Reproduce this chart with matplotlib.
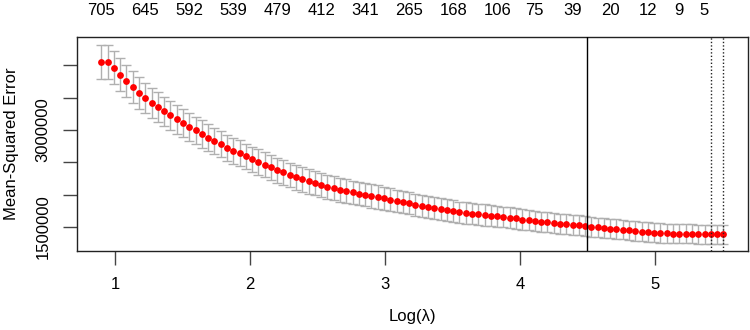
import matplotlib
matplotlib.use("Agg")
import matplotlib.pyplot as plt
import matplotlib.transforms as mtransforms

plt.rcParams['font.family'] = ['Liberation Sans', 'DejaVu Sans']

# log(lambda) grid, 100 values (smallest lambda at the right end)
log_lambda = [
    0.899, 0.945, 0.992, 1.038, 1.085, 1.131, 1.178, 1.224, 1.271, 1.318,
    1.364, 1.411, 1.457, 1.504, 1.550, 1.597, 1.643, 1.690, 1.736, 1.783,
    1.830, 1.876, 1.923, 1.969, 2.016, 2.062, 2.109, 2.155, 2.202, 2.248,
    2.295, 2.342, 2.388, 2.435, 2.481, 2.528, 2.574, 2.621, 2.667, 2.714,
    2.760, 2.807, 2.854, 2.900, 2.947, 2.993, 3.040, 3.086, 3.133, 3.179,
    3.226, 3.272, 3.319, 3.366, 3.412, 3.459, 3.505, 3.552, 3.598, 3.645,
    3.691, 3.738, 3.784, 3.831, 3.878, 3.924, 3.971, 4.017, 4.064, 4.110,
    4.157, 4.203, 4.250, 4.296, 4.343, 4.390, 4.436, 4.483, 4.529, 4.576,
    4.622, 4.669, 4.715, 4.762, 4.808, 4.855, 4.902, 4.948, 4.995, 5.041,
    5.088, 5.134, 5.181, 5.227, 5.274, 5.320, 5.367, 5.414, 5.460, 5.507,
]

# cross-validated mean-squared error (millions)
cvm = [
    4.052, 4.052, 3.963, 3.855, 3.753, 3.665, 3.572, 3.495, 3.422, 3.351,
    3.289, 3.227, 3.165, 3.113, 3.051, 2.995, 2.938, 2.881, 2.830, 2.779,
    2.726, 2.680, 2.640, 2.593, 2.547, 2.505, 2.463, 2.423, 2.381, 2.346,
    2.304, 2.269, 2.238, 2.204, 2.176, 2.149, 2.123, 2.098, 2.077, 2.057,
    2.037, 2.015, 2.000, 1.979, 1.964, 1.944, 1.922, 1.902, 1.887, 1.867,
    1.840, 1.825, 1.809, 1.794, 1.778, 1.758, 1.743, 1.727, 1.716, 1.706,
    1.696, 1.686, 1.675, 1.665, 1.655, 1.644, 1.635, 1.613, 1.604, 1.593,
    1.582, 1.573, 1.562, 1.551, 1.542, 1.536, 1.526, 1.516, 1.505, 1.495,
    1.485, 1.474, 1.469, 1.458, 1.449, 1.438, 1.427, 1.423, 1.412, 1.407,
    1.403, 1.397, 1.396, 1.392, 1.392, 1.391, 1.391, 1.390, 1.390, 1.390,
]

# standard error of the cv estimate (millions)
cvsd = [
    0.263, 0.262, 0.258, 0.254, 0.250, 0.246, 0.242, 0.238, 0.234, 0.230,
    0.227, 0.224, 0.221, 0.218, 0.215, 0.213, 0.210, 0.208, 0.206, 0.204,
    0.202, 0.201, 0.199, 0.198, 0.197, 0.196, 0.195, 0.194, 0.193, 0.193,
    0.192, 0.191, 0.190, 0.189, 0.188, 0.187, 0.186, 0.185, 0.184, 0.183,
    0.182, 0.181, 0.180, 0.179, 0.178, 0.177, 0.176, 0.175, 0.174, 0.173,
    0.172, 0.171, 0.170, 0.170, 0.169, 0.168, 0.168, 0.167, 0.167, 0.166,
    0.165, 0.164, 0.163, 0.162, 0.162, 0.161, 0.160, 0.159, 0.158, 0.158,
    0.157, 0.156, 0.155, 0.155, 0.154, 0.153, 0.153, 0.152, 0.152, 0.151,
    0.151, 0.150, 0.150, 0.149, 0.149, 0.149, 0.148, 0.148, 0.148, 0.148,
    0.147, 0.147, 0.147, 0.147, 0.147, 0.147, 0.147, 0.147, 0.147, 0.147,
]

# number of nonzero coefficients shown on top (index into the grid)
nz_index = [0, 7, 14, 21, 28, 35, 42, 49, 56, 63, 69, 75, 81, 87, 92, 96]
nz_labels = ["705", "645", "592", "539", "479", "412", "341", "265",
             "168", "106", "75", "39", "20", "12", "9", "5"]

log_lambda_solid = 4.499
log_lambda_dotted = [5.414, 5.507]

y_ticks = [1500000, 2000000, 2500000, 3000000, 3500000, 4000000]
y_ticklabels = ["1500000", "", "", "3000000", "", ""]
x_ticks = [1, 2, 3, 4, 5]

mse = [v * 1e6 for v in cvm]
se = [v * 1e6 for v in cvsd]

fig = plt.figure(figsize=(7.5, 3.3), dpi=100)
ax = fig.add_axes([0.1027, 0.2394, 0.8946, 0.6485])

ax.errorbar(log_lambda, mse, yerr=se, fmt="none", ecolor="#b0b0b0",
            elinewidth=1, capsize=3.3, capthick=1, zorder=2)
ax.scatter(log_lambda, mse, s=24, color="red", zorder=3, linewidths=0)

ax.axvline(log_lambda_solid, color="black", lw=1, zorder=4)
for v in log_lambda_dotted:
    ax.axvline(v, color="#222222", lw=1, linestyle=(0, (1, 1.5)), zorder=4)

ax.set_xlim(0.719, 5.689)
ax.set_ylim(1.129e6, 4.438e6)
ax.set_xticks(x_ticks)
ax.set_xticklabels([str(t) for t in x_ticks])
ax.set_yticks(y_ticks)
ax.set_yticklabels(y_ticklabels, rotation=90, va="center")

ax.tick_params(axis="both", direction="out", length=10, width=1,
               color="#444444", labelsize=12, pad=9)
for s in ax.spines.values():
    s.set_color("#222222")
    s.set_linewidth(1)

trans = mtransforms.blended_transform_factory(ax.transData, ax.transAxes)
for i, lab in zip(nz_index, nz_labels):
    ax.text(log_lambda[i], 1.126, lab, transform=trans, ha="center",
            va="center", fontsize=12, clip_on=False)

ax.set_xlabel("Log(λ)", fontsize=12)
ax.xaxis.set_label_coords(0.5, -0.27)
ax.set_ylabel("Mean-Squared Error", fontsize=12)
ax.yaxis.set_label_coords(-0.086, 0.5)

fig.savefig("out.png", dpi=100)
